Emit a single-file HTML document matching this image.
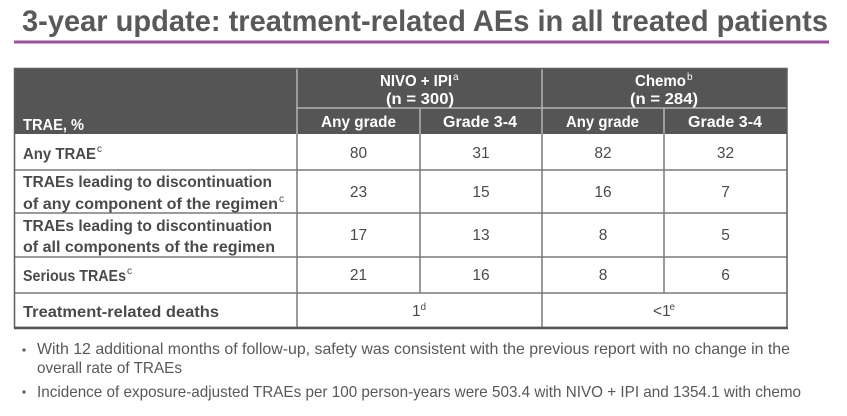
<!DOCTYPE html>
<html>
<head>
<meta charset="utf-8">
<style>
  html,body{margin:0;padding:0;background:#ffffff;}
  svg{display:block;}
  text{font-family:"Liberation Sans","DejaVu Sans",sans-serif;}
</style>
</head>
<body>
<svg width="847" height="416" viewBox="0 0 847 416" xmlns="http://www.w3.org/2000/svg">
  <rect x="0" y="0" width="847" height="416" fill="#ffffff"/>

  <!-- Title -->
  <text x="22" y="31" font-size="30" font-weight="bold" fill="#595959" textLength="806" lengthAdjust="spacingAndGlyphs">3-year update: treatment-related AEs in all treated patients</text>
  <rect x="14" y="40.5" width="815" height="3" fill="#9b4f9d"/>

  <!-- Table header -->
  <rect x="14" y="68" width="773" height="66" fill="#555555"/>
  <rect x="14" y="134" width="773" height="194" fill="#ffffff"/>

  <!-- header lines -->
  <g stroke="#b4b4b4" stroke-width="1.5">
    <line x1="297" y1="69" x2="297" y2="134"/>
    <line x1="542" y1="69" x2="542" y2="134"/>
    <line x1="297" y1="108" x2="787" y2="108"/>
    <line x1="420" y1="108" x2="420" y2="134"/>
    <line x1="664" y1="108" x2="664" y2="134"/>
  </g>

  <!-- body lines -->
  <g stroke="#7a7a7a" stroke-width="1.5">
    <line x1="14" y1="170" x2="787" y2="170"/>
    <line x1="14" y1="213" x2="787" y2="213"/>
    <line x1="14" y1="257" x2="787" y2="257"/>
    <line x1="14" y1="293" x2="787" y2="293"/>
    <line x1="297" y1="134" x2="297" y2="328"/>
    <line x1="542" y1="134" x2="542" y2="328"/>
    <line x1="420" y1="134" x2="420" y2="293"/>
    <line x1="664" y1="134" x2="664" y2="293"/>
  </g>
  <!-- outer border -->
  <rect x="14.5" y="68.5" width="772.5" height="259" fill="none" stroke="#5e5e5e" stroke-width="1.5"/>
  <line x1="14" y1="328" x2="788" y2="328" stroke="#555555" stroke-width="2.5"/>

  <!-- header text -->
  <g fill="#ffffff" font-weight="bold" font-size="15.5">
    <text x="23" y="130" textLength="61" lengthAdjust="spacingAndGlyphs">TRAE, %</text>
    <text x="380" y="86" textLength="72" lengthAdjust="spacingAndGlyphs">NIVO + IPI</text>
    <text x="453" y="80" font-size="10" font-weight="normal">a</text>
    <text x="386" y="104" textLength="68" lengthAdjust="spacingAndGlyphs">(n = 300)</text>
    <text x="321" y="127" textLength="75" lengthAdjust="spacingAndGlyphs">Any grade</text>
    <text x="443" y="127" textLength="74" lengthAdjust="spacingAndGlyphs">Grade 3-4</text>
    <text x="635" y="86" textLength="51" lengthAdjust="spacingAndGlyphs">Chemo</text>
    <text x="687" y="80" font-size="10" font-weight="normal">b</text>
    <text x="630" y="104" textLength="68" lengthAdjust="spacingAndGlyphs">(n = 284)</text>
    <text x="566" y="127" textLength="73" lengthAdjust="spacingAndGlyphs">Any grade</text>
    <text x="688" y="127" textLength="74" lengthAdjust="spacingAndGlyphs">Grade 3-4</text>
  </g>

  <!-- body labels -->
  <g fill="#4a4a4a" font-weight="bold" font-size="16">
    <text x="23" y="159" textLength="73" lengthAdjust="spacingAndGlyphs">Any TRAE</text>
    <text x="97" y="152" font-size="10" font-weight="normal">c</text>
    <text x="23" y="187" textLength="249" lengthAdjust="spacingAndGlyphs">TRAEs leading to discontinuation</text>
    <text x="23" y="209" textLength="255" lengthAdjust="spacingAndGlyphs">of any component of the regimen</text>
    <text x="279" y="202" font-size="10" font-weight="normal">c</text>
    <text x="23" y="231" textLength="249" lengthAdjust="spacingAndGlyphs">TRAEs leading to discontinuation</text>
    <text x="23" y="252" textLength="252" lengthAdjust="spacingAndGlyphs">of all components of the regimen</text>
    <text x="23" y="281" textLength="103" lengthAdjust="spacingAndGlyphs">Serious TRAEs</text>
    <text x="127" y="274" font-size="10" font-weight="normal">c</text>
    <text x="23" y="317" textLength="196" lengthAdjust="spacingAndGlyphs">Treatment-related deaths</text>
  </g>

  <!-- numbers -->
  <g fill="#4a4a4a" font-size="15.5" text-anchor="middle">
    <text x="358.5" y="158">80</text>
    <text x="481" y="158">31</text>
    <text x="603" y="158">82</text>
    <text x="725.5" y="158">32</text>

    <text x="358.5" y="197">23</text>
    <text x="481" y="197">15</text>
    <text x="603" y="197">16</text>
    <text x="725.5" y="197">7</text>

    <text x="358.5" y="240">17</text>
    <text x="481" y="240">13</text>
    <text x="603" y="240">8</text>
    <text x="725.5" y="240">5</text>

    <text x="358.5" y="280">21</text>
    <text x="481" y="280">16</text>
    <text x="603" y="280">8</text>
    <text x="725.5" y="280">6</text>
  </g>
  <g fill="#4a4a4a" font-size="15.5">
    <text x="412" y="316">1</text>
    <text x="420.5" y="310" font-size="10">d</text>
    <text x="653" y="316">&lt;1</text>
    <text x="669.5" y="310" font-size="10">e</text>
  </g>

  <!-- bullets -->
  <g fill="#585858" font-size="16">
    <circle cx="24" cy="350" r="1.6"/>
    <text x="37" y="354" textLength="753" lengthAdjust="spacingAndGlyphs">With 12 additional months of follow-up, safety was consistent with the previous report with no change in the</text>
    <text x="37" y="373" textLength="145" lengthAdjust="spacingAndGlyphs">overall rate of TRAEs</text>
    <circle cx="24" cy="392" r="1.6"/>
    <text x="37" y="397" textLength="764" lengthAdjust="spacingAndGlyphs">Incidence of exposure-adjusted TRAEs per 100 person-years were 503.4 with NIVO + IPI and 1354.1 with chemo</text>
  </g>
</svg>
</body>
</html>
